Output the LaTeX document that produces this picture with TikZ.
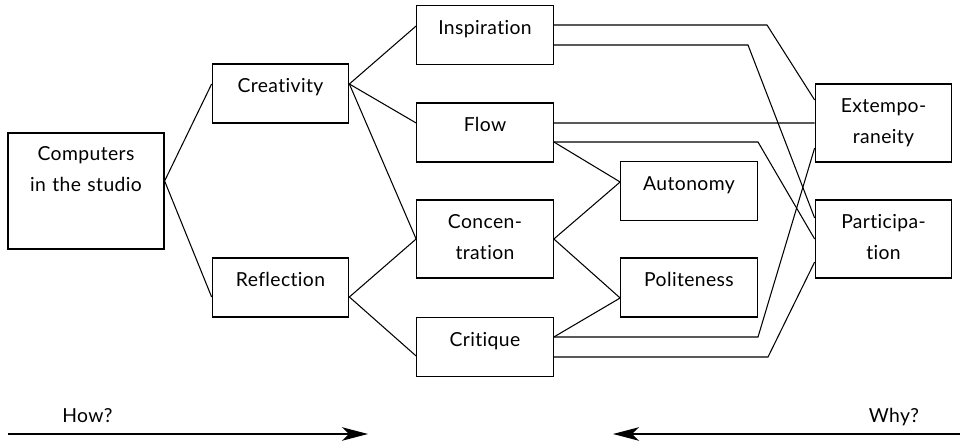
\documentclass[tikz,border=0pt]{standalone}
\usepackage{fontspec}
\setmainfont{Lato}[LetterSpace=2, Ligatures=NoCommon]
\usetikzlibrary{arrows.meta}

\begin{document}
\begin{tikzpicture}[
    box/.style={draw, line width=0.7pt, inner sep=0pt, text width=2.73cm,
        align=center, text height=0.58cm, text depth=0.60cm},
    tallbox/.style={box, text depth=0.98cm},
    link/.style={line width=0.6pt},
    dir/.style={line width=0.7pt, -{Stealth[length=0.52cm, width=0.27cm, inset=0.14cm]}},
    font=\fontsize{11}{17.6}\selectfont]
    \useasboundingbox (0,0) rectangle (19.2,8.9);

    \node[box, text width=3.12cm, text height=0.56cm, text depth=1.76cm] (comp) at (1.72,5.08) {Computers\\in the studio};
    \node[box] (crea) at (5.61,7.03) {Creativity};
    \node[box] (refl) at (5.61,3.15) {Reflection};
    \node[box] (insp) at (9.70,8.20) {Inspiration};
    \node[box] (flow) at (9.70,6.25) {Flow};
    \node[tallbox] (conc) at (9.70,4.12) {Concen-\\tration};
    \node[box] (crit) at (9.70,1.96) {Critique};
    \node[box] (auto) at (13.78,5.08) {Autonomy};
    \node[box] (poli) at (13.78,3.15) {Politeness};
    \node[tallbox] (extm) at (17.67,6.44) {Extempo-\\raneity};
    \node[tallbox] (part) at (17.67,4.12) {Participa-\\tion};

    \coordinate (comp-r) at ([yshift=0.2cm]comp.east);
    \coordinate (crea-l) at ([yshift=0.19cm]crea.west);
    \coordinate (crea-r) at ([yshift=0.19cm]crea.east);
    \coordinate (refl-l) at ([yshift=-0.19cm]refl.west);
    \coordinate (refl-r) at ([yshift=-0.19cm]refl.east);
    \coordinate (insp-l) at ([yshift=0.18cm]insp.west);
    \coordinate (insp-a) at ([yshift=0.2cm]insp.east);
    \coordinate (insp-b) at ([yshift=-0.2cm]insp.east);
    \coordinate (flow-l) at ([yshift=0.19cm]flow.west);
    \coordinate (flow-a) at ([yshift=0.19cm]flow.east);
    \coordinate (flow-b) at ([yshift=-0.19cm]flow.east);
    \coordinate (crit-l) at ([yshift=-0.18cm]crit.west);
    \coordinate (crit-a) at ([yshift=0.2cm]crit.east);
    \coordinate (crit-b) at ([yshift=-0.2cm]crit.east);
    \coordinate (auto-l) at ([yshift=0.18cm]auto.west);
    \coordinate (poli-l) at ([yshift=-0.21cm]poli.west);
    \coordinate (extm-a) at ([yshift=0.46cm]extm.west);
    \coordinate (extm-c) at ([yshift=-0.5cm]extm.west);
    \coordinate (part-a) at ([yshift=0.42cm]part.west);
    \coordinate (part-c) at ([yshift=-0.46cm]part.west);

    % tree on the left
    \draw[link] (comp-r) -- (crea-l);
    \draw[link] (comp-r) -- (refl-l);
    \draw[link] (crea-r) -- (insp-l);
    \draw[link] (crea-r) -- (flow-l);
    \draw[link] (crea-r) -- (conc.west);
    \draw[link] (refl-r) -- (conc.west);
    \draw[link] (refl-r) -- (crit-l);

    \draw[link] (flow-b) -- (auto-l);
    \draw[link] (conc.east) -- (auto-l);
    \draw[link] (conc.east) -- (poli-l);
    \draw[link] (crit-a) -- (poli-l);

    % long runs to the right
    \draw[link] (insp-a) -- (15.34,0 |- insp-a) -- (extm-a);
    \draw[link] (insp-b) -- (14.96,0 |- insp-b) -- (part-a);
    \draw[link] (flow-a) -- (extm.west);
    \draw[link] (flow-b) -- (15.16,0 |- flow-b) -- (part.west);
    \draw[link] (crit-a) -- (15.16,0 |- crit-a) -- (extm-c);
    \draw[link] (crit-b) -- (15.36,0 |- crit-b) -- (part-c);

    \coordinate (how-a) at (0.16,0.22);
    \coordinate (how-b) at (7.36,0.22);
    \coordinate (why-a) at (19.2,0.22);
    \coordinate (why-b) at (12.26,0.22);
    \draw[dir] (how-a) -- (how-b);
    \draw[dir] (why-a) -- (why-b);
    \node[anchor=base] (how) at (1.75,0.44) {How?};
    \node[anchor=base] (why) at (17.88,0.44) {Why?};
\end{tikzpicture}
\end{document}
